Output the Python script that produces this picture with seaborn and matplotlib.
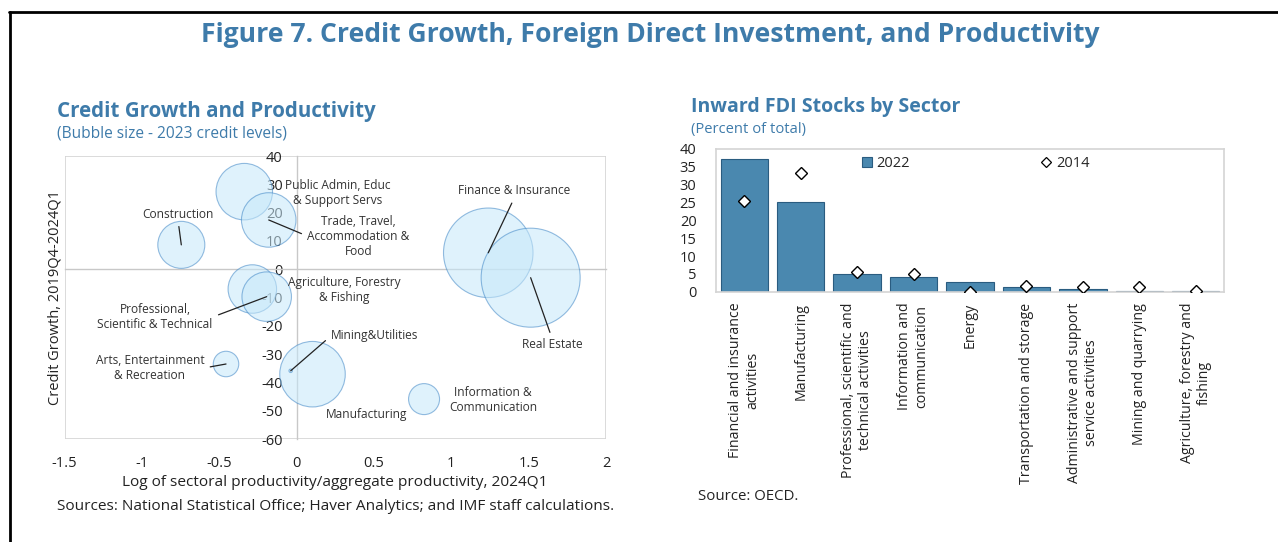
import numpy as np
import pandas as pd
import matplotlib
matplotlib.use("Agg")
import matplotlib.pyplot as plt
from matplotlib.patches import Rectangle, Patch
from matplotlib.lines import Line2D
import seaborn as sns

# ---------------- data: left panel ----------------
sectors = ["Public Admin, Educ\n& Support Servs", "Trade, Travel,\nAccommodation &\nFood",
           "Construction", "Agriculture, Forestry\n& Fishing", "Professional,\nScientific & Technical",
           "Arts, Entertainment\n& Recreation", "Manufacturing", "Mining&Utilities",
           "Information &\nCommunication", "Finance & Insurance", "Real Estate"]
productivity = [-0.338, -0.180, -0.745, -0.286, -0.193, -0.456, 0.103, -0.038, 0.824, 1.239, 1.513]
credit_growth = [27.4, 17.4, 8.6, -7.0, -9.7, -33.5, -37.1, -35.9, -45.9, 5.8, -3.0]
credit_levels = [31.9, 29.7, 22.1, 23.5, 24.5, 6.5, 42.9, 0.12, 9.6, 80.1, 98.0]
# label anchor positions (data units) and whether a leader line is drawn
label_x = [0.268, 0.400, -0.766, 0.306, -0.915, -0.948, 0.455, 0.504, 1.270, 1.409, 1.651]
label_y = [26.9, 11.7, 19.5, -7.35, -16.9, -34.9, -51.3, -23.6, -46.2, 27.7, -26.7]
leader = [False, True, True, False, True, True, False, True, False, True, True]
leader_rel = [None, (0.0, 0.5), (0.5, 0.0), None, (1.0, 0.5), (1.0, 0.5), None, (0.0, 0.5), None, (0.5, 0.0), (0.5, 1.0)]

x_ticks = [-1.5, -1, -0.5, 0, 0.5, 1, 1.5, 2]
x_ticklabels = ["-1.5", "-1", "-0.5", "0", "0.5", "1", "1.5", "2"]
y_ticks = [-60, -50, -40, -30, -20, -10, 0, 10, 20, 30, 40]

# ---------------- data: right panel ----------------
fdi_sectors = ["Financial and insurance\nactivities", "Manufacturing",
               "Professional, scientific and\ntechnical activities", "Information and\ncommunication",
               "Energy", "Transportation and storage", "Administrative and support\nservice activities",
               "Mining and quarrying", "Agriculture, forestry and\nfishing"]
fdi_2022 = [37.2, 25.2, 5.1, 4.1, 2.7, 1.4, 0.8, 0.3, 0.2]
fdi_2014 = [25.3, 33.4, 5.5, 4.9, 0.0, 1.7, 1.2, 1.3, 0.2]
fdi_yticks = [0, 5, 10, 15, 20, 25, 30, 35, 40]

# ---------------- style ----------------
sns.set_theme(style="white")
plt.rcParams["font.family"] = ["Open Sans", "DejaVu Sans"]
BLUE_T = "#3E7BAA"
BAR = "#4A88AF"

W, H = 1278, 542
fig = plt.figure(figsize=(W / 100, H / 100), dpi=100)

def fx(px):
    return px / W

def fy(py):
    return 1 - py / H

# frame lines of the figure panel
fig.add_artist(Line2D([fx(9), 1.0], [fy(12), fy(12)], transform=fig.transFigure, color="black", lw=2))
fig.add_artist(Line2D([fx(10), fx(10)], [fy(12), 0.0], transform=fig.transFigure, color="black", lw=2))

fig.text(fx(650), fy(35), "Figure 7. Credit Growth, Foreign Direct Investment, and Productivity",
         ha="center", va="center", fontsize=19.1, fontweight="bold", color=BLUE_T)

# ---------------- left panel ----------------
ax = fig.add_axes([fx(64.5), fy(439), (606 - 64.5) / W, (439 - 156) / H])
df = pd.DataFrame({"x": productivity, "y": credit_growth, "credit": credit_levels})
smax = (99 * 0.72) ** 2
sns.scatterplot(data=df, x="x", y="y", size="credit", sizes=(0, smax), size_norm=(0, max(credit_levels)),
                color="#C6E8FA", alpha=0.55, edgecolor="#3F86C6", linewidth=0.8, legend=False, ax=ax, zorder=3)
ax.set_xlim(-1.5, 2)
ax.set_ylim(-60, 40)
for s in ["top", "right"]:
    ax.spines[s].set_visible(False)
ax.spines["left"].set_position(("data", 0))
ax.spines["bottom"].set_position(("data", 0))
for s in ["left", "bottom"]:
    ax.spines[s].set_color("#C8C8C8")
    ax.spines[s].set_linewidth(1.0)
    ax.spines[s].set_zorder(1)
ax.add_patch(Rectangle((0, 0), 1, 1, transform=ax.transAxes, fill=False, edgecolor="#D4D4D4", lw=1.2, zorder=0))
ax.set_yticks(y_ticks)
ax.set_yticklabels([str(v) for v in y_ticks])
ax.tick_params(axis="y", direction="in", length=6, color="#C8C8C8", pad=10, labelsize=10.5, labelcolor="#222222")
ax.set_xticks([t for t in x_ticks if t != 0])
ax.tick_params(axis="x", direction="in", length=4, color="#C8C8C8", labelbottom=False)
sec = ax.secondary_xaxis("bottom")
sec.set_xticks(x_ticks)
sec.set_xticklabels(x_ticklabels)
sec.tick_params(length=0, pad=12, labelsize=10.5, labelcolor="#222222")
sec.spines["bottom"].set_visible(False)
sec.set_xlabel("Log of sectoral productivity/aggregate productivity, 2024Q1", fontsize=11.1,
               color="#222222", labelpad=3)
ax.set_xlabel("")
ax.set_ylabel("Credit Growth, 2019Q4-2024Q1", fontsize=10.5, color="#222222")
ax.yaxis.set_label_coords(-0.004, 0.5)

for name, px, py, lx, ly, ld, rel in zip(sectors, productivity, credit_growth, label_x, label_y, leader, leader_rel):
    if ld:
        ax.annotate(name, xy=(px, py), xytext=(lx, ly), ha="center", va="center", fontsize=8.6,
                    color="#333333", zorder=5,
                    arrowprops=dict(arrowstyle="-", color="#222222", lw=0.9, shrinkA=2, shrinkB=0,
                                    relpos=rel))
    else:
        ax.text(lx, ly, name, ha="center", va="center", fontsize=8.6, color="#333333", zorder=5)

fig.text(fx(57), fy(111), "Credit Growth and Productivity", ha="left", va="center",
         fontsize=14.8, fontweight="bold", color=BLUE_T)
fig.text(fx(57), fy(133), "(Bubble size - 2023 credit levels)", ha="left", va="center",
         fontsize=11.2, color=BLUE_T)
fig.text(fx(57), fy(506), "Sources: National Statistical Office; Haver Analytics; and IMF staff calculations.",
         ha="left", va="center", fontsize=11.1, color="#222222")

# ---------------- right panel ----------------
ax2 = fig.add_axes([fx(716), fy(291.7), (1224 - 716) / W, (291.7 - 149) / H])
bdf = pd.DataFrame({"sector": fdi_sectors, "v2022": fdi_2022, "v2014": fdi_2014})
sns.barplot(data=bdf, x="sector", y="v2022", color=BAR, edgecolor="#2A5C80", linewidth=0.8,
            width=0.84, saturation=1, ax=ax2, zorder=2)
sns.pointplot(data=bdf, x="sector", y="v2014", linestyle="none", marker="D", markersize=6.5,
              markerfacecolor="white", markeredgecolor="black", markeredgewidth=1.0, color="black",
              errorbar=None, ax=ax2, zorder=4)
ax2.set_ylim(0, 40)
ax2.set_xlim(-0.5, len(fdi_sectors) - 0.5)
ax2.set_yticks(fdi_yticks)
ax2.set_yticklabels([str(v) for v in fdi_yticks])
for s in ax2.spines.values():
    s.set_color("#D4D4D4")
    s.set_linewidth(1.2)
ax2.tick_params(axis="y", length=0, pad=14, labelsize=10.5, labelcolor="#222222")
ax2.set_xticks(np.arange(len(fdi_sectors)))
ax2.set_xticklabels(fdi_sectors, rotation=90, ha="center", va="top", multialignment="center")
ax2.tick_params(axis="x", which="major", length=0, pad=8, labelsize=10.2, labelcolor="#222222")
ax2.set_xticks(np.arange(0.5, len(fdi_sectors) - 0.5, 1), minor=True)
ax2.tick_params(axis="x", which="minor", direction="in", length=4, color="#C8C8C8")
ax2.set_xlabel("")
ax2.set_ylabel("")

handles = [Patch(facecolor=BAR, edgecolor="#2A5C80", linewidth=0.8),
           Line2D([], [], linestyle="none", marker="D", markersize=5, markerfacecolor="white",
                  markeredgecolor="black", markeredgewidth=0.9)]
ax2.legend(handles, ["2022", "2014"], ncol=2, loc="center left", bbox_to_anchor=((862 - 716) / 508, 0.9),
           frameon=False, fontsize=10.5, handlelength=0.7, handleheight=0.7, handletextpad=0.3,
           columnspacing=9.0, borderpad=0, borderaxespad=0)

fig.text(fx(691), fy(107), "Inward FDI Stocks by Sector", ha="left", va="center",
         fontsize=14, fontweight="bold", color=BLUE_T)
fig.text(fx(691), fy(130), "(Percent of total)", ha="left", va="center", fontsize=10.6, color=BLUE_T)
fig.text(fx(698), fy(497), "Source: OECD.", ha="left", va="center", fontsize=10.8, color="#222222")

fig.savefig("out.png", dpi=100)
